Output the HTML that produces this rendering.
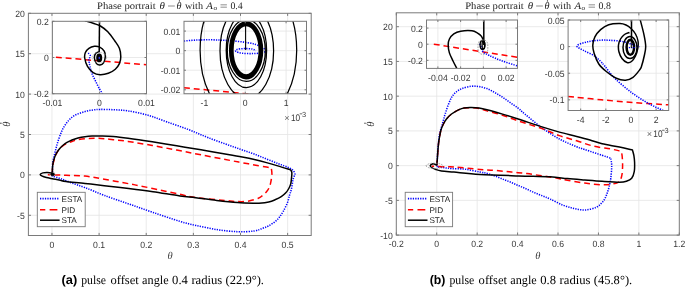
<!DOCTYPE html><html><head><meta charset="utf-8"><style>html,body{margin:0;padding:0;background:#fff;width:685px;height:288px;overflow:hidden}svg{display:block;will-change:transform;text-rendering:geometricPrecision}</style></head><body><svg width="685" height="288" viewBox="0 0 685 288"><defs><clipPath id="cL"><rect x="28.4" y="13.3" width="282.8" height="222.2"/></clipPath><clipPath id="cL1"><rect x="52.4" y="21.3" width="94.1" height="72.4"/></clipPath><clipPath id="cL2"><rect x="184" y="21.3" width="122.5" height="72.4"/></clipPath><clipPath id="cR"><rect x="396.3" y="12.8" width="283" height="222.3"/></clipPath><clipPath id="cR1"><rect x="426.5" y="20" width="91" height="48.4"/></clipPath><clipPath id="cR2"><rect x="568.1" y="20" width="100.6" height="90.5"/></clipPath></defs><rect width="685" height="288" fill="#fff"/><rect x="28.4" y="13.3" width="282.8" height="222.2" fill="#fff"/><g stroke="#e4e4e4" stroke-width="0.8"><line x1="51.97" y1="13.3" x2="51.97" y2="235.5"/><line x1="99.1" y1="13.3" x2="99.1" y2="235.5"/><line x1="146.23" y1="13.3" x2="146.23" y2="235.5"/><line x1="193.37" y1="13.3" x2="193.37" y2="235.5"/><line x1="240.5" y1="13.3" x2="240.5" y2="235.5"/><line x1="287.63" y1="13.3" x2="287.63" y2="235.5"/><line x1="28.4" y1="215.3" x2="311.2" y2="215.3"/><line x1="28.4" y1="174.9" x2="311.2" y2="174.9"/><line x1="28.4" y1="134.5" x2="311.2" y2="134.5"/><line x1="28.4" y1="94.1" x2="311.2" y2="94.1"/><line x1="28.4" y1="53.7" x2="311.2" y2="53.7"/></g><g clip-path="url(#cL)"><path d="M52.4 174.6C52.42 173.83 52.44 172.02 52.5 170C52.56 167.98 52.43 165 52.75 162.5C53.07 160 53.82 157.5 54.4 155C54.98 152.5 55.63 149.83 56.25 147.5C56.87 145.17 57.38 143.25 58.1 141C58.83 138.75 59.77 136.1 60.6 134C61.43 131.9 62.16 130.17 63.1 128.4C64.04 126.63 65.1 124.97 66.25 123.4C67.4 121.83 68.54 120.36 70 119C71.46 117.64 73.12 116.29 75 115.25C76.88 114.21 79.17 113.47 81.25 112.75C83.33 112.03 85.42 111.38 87.5 110.9C89.58 110.43 91.67 110.15 93.75 109.9C95.83 109.65 96.76 109.43 100 109.4C103.24 109.37 108.57 109.45 113.2 109.7C117.83 109.95 122.08 110 127.8 110.9C133.52 111.8 140.98 113.27 147.5 115.1C154.02 116.93 160.02 119.47 166.9 121.9C173.78 124.33 181.9 127.07 188.8 129.7C195.7 132.33 201.43 135.05 208.3 137.7C215.17 140.35 224.35 143.57 230 145.6C235.65 147.63 238.15 148.48 242.2 149.9C246.25 151.32 250.25 152.58 254.3 154.1C258.35 155.62 262.45 157.38 266.5 159C270.55 160.62 274.97 162.38 278.6 163.8C282.23 165.22 285.87 166.38 288.3 167.5C290.73 168.62 292.08 169.38 293.2 170.5C294.32 171.62 294.7 173.58 295 174.2L295 174.2C294.7 175 293.65 177.37 293.2 179C292.75 180.63 292.63 182.17 292.3 184C291.97 185.83 291.65 188.17 291.2 190C290.75 191.83 290.25 192.83 289.6 195C288.95 197.17 288.35 200.29 287.3 203C286.25 205.71 284.6 208.92 283.3 211.25C282 213.58 280.88 215.26 279.5 217C278.12 218.74 276.83 220.2 275 221.7C273.17 223.2 270.58 224.9 268.5 226C266.42 227.1 264.88 227.47 262.5 228.3C260.12 229.13 258.37 230.43 254.2 231C250.03 231.57 243.75 231.93 237.5 231.7C231.25 231.47 223.65 230.65 216.7 229.6C209.75 228.55 201.92 226.77 195.8 225.4C189.68 224.03 187.13 223.57 180 221.4C172.87 219.23 161.55 215.32 153 212.4C144.45 209.48 136.82 206.73 128.7 203.9C120.58 201.07 111.58 198.12 104.3 195.4C97.02 192.68 90.47 189.68 85 187.6C79.53 185.52 75.5 184.38 71.5 182.9C67.5 181.43 64.13 179.88 61 178.75C57.87 177.62 54.13 176.79 52.7 176.1C51.27 175.41 52.45 174.85 52.4 174.6" fill="none" stroke="#0000ff" stroke-width="1.55" stroke-dasharray="1.25 1.2"/><path d="M52.3 174.4C52.33 173.25 52.37 169.25 52.5 167.5C52.63 165.75 52.78 165.32 53.1 163.9C53.42 162.48 53.88 160.65 54.4 159C54.92 157.35 55.52 155.53 56.25 154C56.98 152.47 57.71 151.12 58.75 149.8C59.79 148.48 61.04 147.2 62.5 146.1C63.96 145 65.83 144 67.5 143.2C69.17 142.4 70.83 141.87 72.5 141.3C74.17 140.73 74.78 140.27 77.5 139.8C80.22 139.33 84.88 138.73 88.8 138.5C92.72 138.27 96.93 138.2 101 138.4C105.07 138.6 108.7 139.2 113.2 139.7C117.7 140.2 121.48 140.43 128 141.4C134.52 142.37 144.18 144.05 152.3 145.5C160.42 146.95 168.58 148.55 176.7 150.1C184.82 151.65 192.12 153.08 201 154.8C209.88 156.52 223.13 159.08 230 160.4C236.87 161.72 238.15 161.95 242.2 162.7C246.25 163.45 250.25 164.17 254.3 164.9C258.35 165.63 263.67 166.58 266.5 167.1C269.33 167.62 270.5 167.85 271.3 168L271.3 168.1C271.4 169.12 271.98 171.87 271.9 174.2C271.82 176.53 271.25 179.88 270.8 182.1C270.35 184.32 269.88 185.93 269.2 187.5C268.52 189.07 267.82 190.17 266.7 191.5C265.58 192.83 263.9 194.37 262.5 195.5C261.1 196.63 260.73 197.34 258.3 198.3C255.87 199.26 251.37 200.7 247.9 201.25C244.43 201.8 240.48 201.64 237.5 201.6C234.52 201.56 233.47 201.32 230 201C226.53 200.68 222.5 200.27 216.7 199.7C210.9 199.13 201.42 198.52 195.2 197.6C188.98 196.68 185.27 195.47 179.4 194.2C173.53 192.93 166.57 191.38 160 190C153.43 188.62 145.22 186.95 140 185.9C134.78 184.85 134.65 184.82 128.7 183.7C122.75 182.58 111.58 180.47 104.3 179.2C97.02 177.93 91.38 176.75 85 176.1C78.62 175.45 70.7 175.48 66 175.3C61.3 175.12 59.83 175.08 56.8 175C53.77 174.92 49.3 174.83 47.8 174.8" fill="none" stroke="#ff0000" stroke-width="1.5" stroke-dasharray="5.9 3.9"/><path d="M52.3 174.4C52.32 173.39 52.37 169.94 52.45 168.34C52.53 166.74 52.64 165.95 52.8 164.8C52.96 163.65 53.13 162.6 53.4 161.45C53.67 160.3 54 159.06 54.4 157.9C54.8 156.74 55.27 155.6 55.8 154.5C56.33 153.41 56.9 152.39 57.6 151.34C58.3 150.29 59.1 149.22 60 148.21C60.9 147.2 61.83 146.25 63 145.29C64.17 144.33 65.5 143.33 67 142.44C68.5 141.55 70.17 140.68 72 139.94C73.83 139.19 75.83 138.52 78 137.97C80.17 137.42 82.67 136.96 85 136.64C87.33 136.32 89.33 136.15 92 136.04C94.67 135.94 97.47 135.92 101 136C104.53 136.08 108.7 136.13 113.2 136.5C117.7 136.87 121.48 137.32 128 138.2C134.52 139.08 144.18 140.53 152.3 141.8C160.42 143.07 168.58 144.47 176.7 145.8C184.82 147.13 192.45 148.35 201 149.8C209.55 151.25 221.13 153.28 228 154.5C234.87 155.72 237.82 156.25 242.2 157.1C246.58 157.95 250.25 158.68 254.3 159.6C258.35 160.52 262.45 161.52 266.5 162.6C270.55 163.68 274.58 164.88 278.6 166.1C282.62 167.32 288.6 169.27 290.6 169.9L290.6 169.9C290.8 170.3 291.63 171.12 291.8 172.3C291.97 173.48 291.77 175.12 291.6 177C291.43 178.88 291.27 181.68 290.8 183.6C290.33 185.52 289.63 186.97 288.8 188.5C287.97 190.03 287.06 191.43 285.8 192.8C284.54 194.17 283.05 195.53 281.25 196.7C279.45 197.87 277.08 198.93 275 199.8C272.92 200.67 271.42 201.33 268.75 201.9C266.08 202.47 261.43 202.97 259 203.2C256.57 203.43 257.78 203.42 254.2 203.3C250.62 203.18 243.75 202.98 237.5 202.5C231.25 202.02 223.65 201.2 216.7 200.4C209.75 199.6 201.92 198.45 195.8 197.7C189.68 196.95 187.13 196.88 180 195.9C172.87 194.92 161.55 193.02 153 191.8C144.45 190.58 136.82 189.62 128.7 188.6C120.58 187.58 111.58 186.57 104.3 185.7C97.02 184.83 91.38 184.12 85 183.4C78.62 182.68 70.12 181.92 66 181.4C61.88 180.88 62.4 180.72 60.3 180.3C58.2 179.88 55.72 179.37 53.4 178.9C51.08 178.43 48.26 177.95 46.4 177.5C44.54 177.05 43.28 176.72 42.25 176.2C41.22 175.68 40.09 174.95 40.2 174.4C40.31 173.85 41.75 173.22 42.9 172.9C44.05 172.58 45.7 172.48 47.1 172.5C48.5 172.52 50.42 172.7 51.3 173C52.18 173.3 52.22 174.08 52.4 174.3" fill="none" stroke="#000" stroke-width="1.5" stroke-linejoin="round"/><path d="M49.4 174.4a3.2 1.6 0 1 0 6.4 0a3.2 1.6 0 1 0 -6.4 0" fill="none" stroke="#9a9a9a" stroke-width="0.7" stroke-dasharray="1.2 1"/><path d="M50.8 174.3a1.8 1.3 0 1 0 3.6 0a1.8 1.3 0 1 0 -3.6 0" fill="#000" stroke="#000" stroke-width="0.9"/></g><path d="M51.97 235.5v-2.6M51.97 13.3v2.6M99.1 235.5v-2.6M99.1 13.3v2.6M146.23 235.5v-2.6M146.23 13.3v2.6M193.37 235.5v-2.6M193.37 13.3v2.6M240.5 235.5v-2.6M240.5 13.3v2.6M287.63 235.5v-2.6M287.63 13.3v2.6M28.4 215.3h2.6M311.2 215.3h-2.6M28.4 174.9h2.6M311.2 174.9h-2.6M28.4 134.5h2.6M311.2 134.5h-2.6M28.4 94.1h2.6M311.2 94.1h-2.6M28.4 53.7h2.6M311.2 53.7h-2.6M28.4 13.3h2.6M311.2 13.3h-2.6" stroke="#7a7a7a" stroke-width="1" fill="none"/><rect x="28.4" y="13.3" width="282.8" height="222.2" fill="none" stroke="#7a7a7a" stroke-width="1"/><g font-family='"Liberation Sans", sans-serif' font-size="9.1" fill="#383838"><text transform="translate(51.97 247.8) scale(0.95 1)" text-anchor="middle">0</text><text transform="translate(99.1 247.8) scale(0.95 1)" text-anchor="middle">0.1</text><text transform="translate(146.23 247.8) scale(0.95 1)" text-anchor="middle">0.2</text><text transform="translate(193.37 247.8) scale(0.95 1)" text-anchor="middle">0.3</text><text transform="translate(240.5 247.8) scale(0.95 1)" text-anchor="middle">0.4</text><text transform="translate(287.63 247.8) scale(0.95 1)" text-anchor="middle">0.5</text><text transform="translate(24.8 218.8) scale(0.95 1)" text-anchor="end">-5</text><text transform="translate(24.8 178.4) scale(0.95 1)" text-anchor="end">0</text><text transform="translate(24.8 138) scale(0.95 1)" text-anchor="end">5</text><text transform="translate(24.8 97.6) scale(0.95 1)" text-anchor="end">10</text><text transform="translate(24.8 57.2) scale(0.95 1)" text-anchor="end">15</text><text transform="translate(24.8 16.8) scale(0.95 1)" text-anchor="end">20</text></g><rect x="37.3" y="192.3" width="47.9" height="34.4" fill="#fff" stroke="#7a7a7a" stroke-width="0.9"/><path d="M40 198.6H59.6" fill="none" stroke="#0000ff" stroke-width="1.55" stroke-dasharray="1.25 1.2"/><text x="61.5" y="201.6" font-family='"Liberation Sans", sans-serif' font-size="8.2" fill="#222">ESTA</text><path d="M40 209.7H59.6" fill="none" stroke="#ff0000" stroke-width="1.5" stroke-dasharray="5.3 4.3 7.8 10"/><text x="61.5" y="212.7" font-family='"Liberation Sans", sans-serif' font-size="8.2" fill="#222">PID</text><path d="M40 220.2H59.6" fill="none" stroke="#000" stroke-width="1.5" stroke-linejoin="round"/><text x="61.5" y="223.2" font-family='"Liberation Sans", sans-serif' font-size="8.2" fill="#222">STA</text><rect x="52.4" y="21.3" width="94.1" height="72.4" fill="#fff"/><g stroke="#e4e4e4" stroke-width="0.8"><line x1="99.45" y1="21.3" x2="99.45" y2="93.7"/><line x1="52.4" y1="57.5" x2="146.5" y2="57.5"/></g><g clip-path="url(#cL1)"><path d="M55.9 57.2L146.5 64.8" fill="none" stroke="#ff0000" stroke-width="1.5" stroke-dasharray="5.9 3.9"/><path d="M88.3 53C88.62 53.38 89.92 54.58 90.2 55.3C90.48 56.02 90.25 56.65 90 57.3C89.75 57.95 88.83 58.33 88.7 59.2C88.57 60.07 88.98 61.28 89.2 62.5C89.42 63.72 89.55 64.68 90 66.5C90.45 68.32 90.97 70.94 91.9 73.4C92.83 75.86 94.33 78.65 95.6 81.25C96.87 83.85 98.32 86.92 99.5 89C100.68 91.08 102.17 92.92 102.7 93.7" fill="none" stroke="#0000ff" stroke-width="1.55" stroke-dasharray="1.25 1.2"/><path d="M84.9 20.7C86.4 21.17 91.25 22.57 93.9 23.5C96.55 24.43 98.48 24.87 100.8 26.25C103.12 27.63 105.48 29.38 107.8 31.8C110.12 34.23 112.77 38.05 114.7 40.8C116.63 43.55 118.38 45.65 119.4 48.3C120.42 50.95 120.8 54.15 120.8 56.7C120.8 59.25 120.32 61.52 119.4 63.6C118.48 65.68 117.15 67.58 115.3 69.2C113.45 70.82 110.85 72.38 108.3 73.3C105.75 74.22 102.53 74.82 100 74.7C97.47 74.58 95.18 73.98 93.1 72.6C91.02 71.22 88.9 68.83 87.5 66.4C86.1 63.97 85.05 60.32 84.7 58C84.35 55.68 84.7 54.12 85.4 52.5C86.1 50.88 87.4 49.34 88.9 48.3C90.4 47.26 92.67 46.48 94.4 46.25C96.13 46.02 97.67 46.09 99.3 46.9C100.93 47.71 103.2 49.47 104.2 51.1C105.2 52.73 105.42 54.73 105.3 56.7C105.18 58.67 104.38 61.52 103.5 62.9C102.62 64.28 101.17 64.88 100 65C98.83 65.12 97.43 64.77 96.5 63.6C95.57 62.43 94.52 59.73 94.4 58C94.28 56.27 94.98 54.23 95.8 53.2C96.62 52.17 98.72 52.03 99.3 51.8" fill="none" stroke="#000" stroke-width="1.5" stroke-linejoin="round"/><path d="M99.5 21.3L99.2 52" fill="none" stroke="#000" stroke-width="1.5" stroke-linejoin="round"/><ellipse cx="99.2" cy="57.9" rx="3.0" ry="4.3" fill="#000"/><ellipse cx="99.3" cy="57.9" rx="0.8" ry="1.1" fill="#3030ff"/><ellipse cx="99.4" cy="57.6" rx="7.2" ry="5.2" fill="none" stroke="#a0a0a0" stroke-width="0.7" stroke-dasharray="1.3 1.2"/></g><path d="M52.4 93.7v-2M52.4 21.3v2M99.45 93.7v-2M99.45 21.3v2M146.5 93.7v-2M146.5 21.3v2M52.4 93.7h2M146.5 93.7h-2M52.4 57.5h2M146.5 57.5h-2M52.4 21.3h2M146.5 21.3h-2" stroke="#7a7a7a" stroke-width="1" fill="none"/><rect x="52.4" y="21.3" width="94.1" height="72.4" fill="none" stroke="#7a7a7a" stroke-width="1"/><g font-family='"Liberation Sans", sans-serif' font-size="9.1" fill="#383838"><text transform="translate(52.4 106) scale(0.95 1)" text-anchor="middle">-0.01</text><text transform="translate(99.45 106) scale(0.95 1)" text-anchor="middle">0</text><text transform="translate(146.5 106) scale(0.95 1)" text-anchor="middle">0.01</text><text transform="translate(48.8 97.2) scale(0.95 1)" text-anchor="end">-0.2</text><text transform="translate(48.8 61) scale(0.95 1)" text-anchor="end">0</text><text transform="translate(48.8 24.8) scale(0.95 1)" text-anchor="end">0.2</text></g><rect x="184" y="21.3" width="122.5" height="72.4" fill="#fff"/><g stroke="#e4e4e4" stroke-width="0.8"><line x1="204.42" y1="21.3" x2="204.42" y2="93.7"/><line x1="245.25" y1="21.3" x2="245.25" y2="93.7"/><line x1="286.08" y1="21.3" x2="286.08" y2="93.7"/><line x1="184" y1="89.79" x2="306.5" y2="89.79"/><line x1="184" y1="70.22" x2="306.5" y2="70.22"/><line x1="184" y1="50.65" x2="306.5" y2="50.65"/><line x1="184" y1="31.08" x2="306.5" y2="31.08"/></g><g clip-path="url(#cL2)"><path d="M184 87.7L250 94.1" fill="none" stroke="#ff0000" stroke-width="1.5" stroke-dasharray="5.9 3.9"/><path d="M184 41C186 40.85 191.67 40.3 196 40.1C200.33 39.9 205.67 39.78 210 39.8C214.33 39.82 218 40 222 40.2C226 40.4 230 40.63 234 41C238 41.37 242.4 41.83 246 42.4C249.6 42.97 252.9 43.55 255.6 44.4C258.3 45.25 260.45 46.47 262.2 47.5C263.95 48.53 266.13 49.72 266.1 50.6C266.07 51.48 264.35 52.3 262 52.8C259.65 53.3 255.33 53.53 252 53.6C248.67 53.67 244.67 53.55 242 53.2C239.33 52.85 236.83 52.12 236 51.5C235.17 50.88 235.67 49.98 237 49.5C238.33 49.02 241.5 48.68 244 48.6C246.5 48.52 250 48.68 252 49C254 49.32 255.33 50.25 256 50.5" fill="none" stroke="#0000ff" stroke-width="1.55" stroke-dasharray="1.25 1.2"/><path d="M200.1 50.2a48.3 73.4 0 1 0 96.6 0a48.3 73.4 0 1 0 -96.6 0M220 51a26.8 47.4 0 1 0 53.6 0a26.8 47.4 0 1 0 -53.6 0M226.2 50.4a20.2 37.2 0 1 0 40.4 0a20.2 37.2 0 1 0 -40.4 0M227.3 50.4a19 30.9 0 1 0 38 0a19 30.9 0 1 0 -38 0" fill="none" stroke="#000" stroke-width="1.25" stroke-linejoin="round"/><path d="M229.5 50.4a16.6 28.5 0 1 0 33.2 0a16.6 28.5 0 1 0 -33.2 0M230.5 50.4a15.6 27.4 0 1 0 31.2 0a15.6 27.4 0 1 0 -31.2 0M231.5 50.3a14.6 26.3 0 1 0 29.2 0a14.6 26.3 0 1 0 -29.2 0M232.4 50.3a13.7 25.3 0 1 0 27.4 0a13.7 25.3 0 1 0 -27.4 0M233.1 50.3a13 24.5 0 1 0 26 0a13 24.5 0 1 0 -26 0" fill="none" stroke="#000" stroke-width="1.12" stroke-linejoin="round"/><path d="M245.6 21.3L245.6 50" fill="none" stroke="#000" stroke-width="1.1" stroke-linejoin="round"/></g><path d="M204.42 93.7v-2M204.42 21.3v2M245.25 93.7v-2M245.25 21.3v2M286.08 93.7v-2M286.08 21.3v2M184 89.79h2M306.5 89.79h-2M184 70.22h2M306.5 70.22h-2M184 50.65h2M306.5 50.65h-2M184 31.08h2M306.5 31.08h-2" stroke="#7a7a7a" stroke-width="1" fill="none"/><rect x="184" y="21.3" width="122.5" height="72.4" fill="none" stroke="#7a7a7a" stroke-width="1"/><g font-family='"Liberation Sans", sans-serif' font-size="9.1" fill="#383838"><text transform="translate(204.42 106) scale(0.95 1)" text-anchor="middle">-1</text><text transform="translate(245.25 106) scale(0.95 1)" text-anchor="middle">0</text><text transform="translate(286.08 106) scale(0.95 1)" text-anchor="middle">1</text><text transform="translate(180.4 93.29) scale(0.95 1)" text-anchor="end">-0.02</text><text transform="translate(180.4 73.72) scale(0.95 1)" text-anchor="end">-0.01</text><text transform="translate(180.4 54.15) scale(0.95 1)" text-anchor="end">0</text><text transform="translate(180.4 34.58) scale(0.95 1)" text-anchor="end">0.01</text></g><rect x="396.3" y="12.8" width="283" height="222.3" fill="#fff"/><g stroke="#e4e4e4" stroke-width="0.8"><line x1="436.73" y1="12.8" x2="436.73" y2="235.1"/><line x1="477.16" y1="12.8" x2="477.16" y2="235.1"/><line x1="517.59" y1="12.8" x2="517.59" y2="235.1"/><line x1="558.01" y1="12.8" x2="558.01" y2="235.1"/><line x1="598.44" y1="12.8" x2="598.44" y2="235.1"/><line x1="638.87" y1="12.8" x2="638.87" y2="235.1"/><line x1="396.3" y1="200.37" x2="679.3" y2="200.37"/><line x1="396.3" y1="165.63" x2="679.3" y2="165.63"/><line x1="396.3" y1="130.9" x2="679.3" y2="130.9"/><line x1="396.3" y1="96.16" x2="679.3" y2="96.16"/><line x1="396.3" y1="61.43" x2="679.3" y2="61.43"/><line x1="396.3" y1="26.69" x2="679.3" y2="26.69"/></g><g clip-path="url(#cR)"><path d="M437.2 166.8C437.22 165.67 437.2 162.8 437.3 160C437.4 157.2 437.58 153 437.8 150C438.02 147 438.3 144.67 438.6 142C438.9 139.33 439.12 136.5 439.6 134C440.08 131.5 440.87 129.29 441.5 127C442.13 124.71 442.77 122.5 443.4 120.25C444.03 118 444.48 116.08 445.3 113.5C446.12 110.92 447.23 107.52 448.3 104.8C449.37 102.08 450.48 99.25 451.7 97.2C452.92 95.15 453.9 93.93 455.6 92.5C457.3 91.07 459.29 89.64 461.9 88.6C464.51 87.56 468.4 86.58 471.25 86.25C474.1 85.92 476.39 86.21 479 86.6C481.61 86.99 484.28 87.62 486.9 88.6C489.52 89.58 492.1 91.07 494.7 92.5C497.3 93.93 499.9 95.5 502.5 97.2C505.1 98.9 507.7 100.88 510.3 102.7C512.9 104.52 515.7 106.23 518.1 108.1C520.5 109.97 520.72 110.62 524.7 113.9C528.68 117.18 536.22 123.62 542 127.8C547.78 131.98 553.62 135.83 559.4 139C565.18 142.17 572.48 145.05 576.7 146.8C580.92 148.55 580.47 148.08 584.7 149.5C588.93 150.92 597.75 153.85 602.1 155.3C606.45 156.75 609.35 157.72 610.8 158.2L610.8 158.2C610.95 159.52 611.7 162.77 611.7 166.1C611.7 169.43 611.23 174.73 610.8 178.2C610.37 181.67 609.7 184.43 609.1 186.9C608.5 189.37 607.88 191.07 607.2 193C606.52 194.93 605.87 196.92 605 198.5C604.13 200.08 603.43 201.05 602 202.5C600.57 203.95 599.22 205.95 596.4 207.2C593.58 208.45 588.85 209.8 585.1 210C581.35 210.2 577.65 209.23 573.9 208.4C570.15 207.57 566.53 206.55 562.6 205C558.67 203.45 553.65 200.62 550.3 199.1C546.95 197.58 545.1 196.95 542.5 195.9C539.9 194.85 537.3 193.92 534.7 192.8C532.1 191.68 529.52 190.37 526.9 189.2C524.28 188.03 521.61 186.92 519 185.8C516.39 184.68 513.85 183.57 511.25 182.5C508.65 181.43 506.01 180.44 503.4 179.4C500.79 178.36 498.2 177.22 495.6 176.25C493 175.28 490.4 174.31 487.8 173.6C485.2 172.89 483.78 172.73 480 172C476.22 171.27 469.8 169.77 465.1 169.2C460.4 168.63 455.18 168.83 451.8 168.6C448.42 168.37 447.23 168.1 444.8 167.8C442.37 167.5 438.47 166.97 437.2 166.8" fill="none" stroke="#0000ff" stroke-width="1.55" stroke-dasharray="1.25 1.2"/><path d="M436.8 165.5C436.82 165.08 436.83 163.78 436.9 163C436.97 162.22 437.03 162.9 437.2 160.8C437.37 158.7 437.68 153.2 437.9 150.4C438.12 147.6 438.32 145.73 438.5 144C438.68 142.27 438.6 142.29 439 140C439.4 137.71 440.17 132.92 440.9 130.25C441.63 127.58 442.47 125.88 443.4 124C444.33 122.12 445.15 120.67 446.5 119C447.85 117.33 449.42 115.57 451.5 114C453.58 112.43 456.92 110.6 459 109.6C461.08 108.6 461.96 108.32 464 108C466.04 107.68 468.75 107.63 471.25 107.7C473.75 107.77 476.39 107.87 479 108.4C481.61 108.93 482.98 109.77 486.9 110.9C490.82 112.03 497.3 113.53 502.5 115.2C507.7 116.87 511.52 118.67 518.1 120.9C524.68 123.13 535.12 126.15 542 128.6C548.88 131.05 553.62 133.57 559.4 135.6C565.18 137.63 571.03 139.05 576.7 140.8C582.37 142.55 587.72 144.73 593.4 146.1C599.08 147.47 606.17 148.13 610.8 149C615.43 149.87 619.47 150.92 621.2 151.3L621.2 151.3C621.35 152.02 621.87 153.43 622.1 155.6C622.33 157.77 622.6 161.25 622.6 164.3C622.6 167.35 622.47 171.28 622.1 173.9C621.73 176.52 621.12 178.55 620.4 180C619.68 181.45 619.4 181.88 617.8 182.6C616.2 183.32 613.42 183.93 610.8 184.3C608.18 184.67 606.45 185 602.1 184.8C597.75 184.6 590.48 183.85 584.7 183.1C578.92 182.35 572.35 181.18 567.4 180.3C562.45 179.42 559.15 178.53 555 177.8C550.85 177.07 547.18 176.6 542.5 175.9C537.82 175.2 532.11 174.25 526.9 173.6C521.69 172.95 516.47 172.52 511.25 172C506.03 171.48 500.81 170.93 495.6 170.5C490.39 170.07 486.95 170 480 169.4C473.05 168.8 459.42 167.33 453.9 166.9C448.38 166.47 449.92 166.88 446.9 166.8C443.88 166.72 438.35 166.52 435.8 166.4C433.25 166.28 432.3 166.15 431.6 166.1" fill="none" stroke="#ff0000" stroke-width="1.5" stroke-dasharray="5.9 3.9"/><path d="M436.8 165.5C436.82 165.08 436.83 163.78 436.9 163C436.97 162.22 437.03 162.9 437.2 160.8C437.37 158.7 437.68 153.2 437.9 150.4C438.12 147.6 438.32 145.73 438.5 144C438.68 142.27 438.6 142.29 439 140C439.4 137.71 440.17 132.92 440.9 130.25C441.63 127.58 442.47 125.88 443.4 124C444.33 122.12 445.15 120.67 446.5 119C447.85 117.33 449.42 115.57 451.5 114C453.58 112.43 456.92 110.62 459 109.6C461.08 108.58 461.96 108.23 464 107.9C466.04 107.57 468.75 107.57 471.25 107.6C473.75 107.63 476.39 107.75 479 108.1C481.61 108.45 482.98 108.7 486.9 109.7C490.82 110.7 497.3 112.55 502.5 114.1C507.7 115.65 511.52 116.87 518.1 119C524.68 121.13 535.12 124.72 542 126.9C548.88 129.08 553.62 130.52 559.4 132.1C565.18 133.68 571.6 135.08 576.7 136.4C581.8 137.72 585.77 138.77 590 140C594.23 141.23 597.18 142.63 602.1 143.8C607.02 144.97 614.43 145.95 619.5 147C624.57 148.05 630.33 149.58 632.5 150.1L632.5 150.1C632.73 151.02 633.55 153.52 633.9 155.6C634.25 157.68 634.53 159.98 634.6 162.6C634.67 165.22 634.78 168.7 634.3 171.3C633.82 173.9 633.02 176.53 631.7 178.2C630.38 179.87 628.43 180.63 626.4 181.3C624.37 181.97 623.55 182.2 619.5 182.2C615.45 182.2 607.9 181.67 602.1 181.3C596.3 180.93 590.48 180.45 584.7 180C578.92 179.55 573.18 179.13 567.4 178.6C561.62 178.07 558.07 177.25 550 176.8C541.93 176.35 530.67 176.3 519 175.9C507.33 175.5 490.85 175.03 480 174.4C469.15 173.77 460.33 172.68 453.9 172.1C447.47 171.52 444.42 171.33 441.4 170.9C438.38 170.47 437.43 170.07 435.8 169.5C434.17 168.93 432.53 168.13 431.6 167.5C430.68 166.87 430.13 166.28 430.25 165.7C430.37 165.12 431.51 164.25 432.3 164C433.09 163.75 434.25 163.95 435 164.2C435.75 164.45 436.5 165.28 436.8 165.5" fill="none" stroke="#000" stroke-width="1.5" stroke-linejoin="round"/><path d="M426.2 165.8a8.3 2.6 0 1 0 16.6 0a8.3 2.6 0 1 0 -16.6 0" fill="none" stroke="#8a8a8a" stroke-width="0.8" stroke-dasharray="1.6 1.1"/></g><path d="M396.3 235.1v-2.6M396.3 12.8v2.6M436.73 235.1v-2.6M436.73 12.8v2.6M477.16 235.1v-2.6M477.16 12.8v2.6M517.59 235.1v-2.6M517.59 12.8v2.6M558.01 235.1v-2.6M558.01 12.8v2.6M598.44 235.1v-2.6M598.44 12.8v2.6M638.87 235.1v-2.6M638.87 12.8v2.6M679.3 235.1v-2.6M679.3 12.8v2.6M396.3 235.1h2.6M679.3 235.1h-2.6M396.3 200.37h2.6M679.3 200.37h-2.6M396.3 165.63h2.6M679.3 165.63h-2.6M396.3 130.9h2.6M679.3 130.9h-2.6M396.3 96.16h2.6M679.3 96.16h-2.6M396.3 61.43h2.6M679.3 61.43h-2.6M396.3 26.69h2.6M679.3 26.69h-2.6" stroke="#7a7a7a" stroke-width="1" fill="none"/><rect x="396.3" y="12.8" width="283" height="222.3" fill="none" stroke="#7a7a7a" stroke-width="1"/><g font-family='"Liberation Sans", sans-serif' font-size="9.1" fill="#383838"><text transform="translate(396.3 247.4) scale(0.95 1)" text-anchor="middle">-0.2</text><text transform="translate(436.73 247.4) scale(0.95 1)" text-anchor="middle">0</text><text transform="translate(477.16 247.4) scale(0.95 1)" text-anchor="middle">0.2</text><text transform="translate(517.59 247.4) scale(0.95 1)" text-anchor="middle">0.4</text><text transform="translate(558.01 247.4) scale(0.95 1)" text-anchor="middle">0.6</text><text transform="translate(598.44 247.4) scale(0.95 1)" text-anchor="middle">0.8</text><text transform="translate(638.87 247.4) scale(0.95 1)" text-anchor="middle">1</text><text transform="translate(679.3 247.4) scale(0.95 1)" text-anchor="middle">1.2</text><text transform="translate(392.7 238.6) scale(0.95 1)" text-anchor="end">-10</text><text transform="translate(392.7 203.87) scale(0.95 1)" text-anchor="end">-5</text><text transform="translate(392.7 169.13) scale(0.95 1)" text-anchor="end">0</text><text transform="translate(392.7 134.4) scale(0.95 1)" text-anchor="end">5</text><text transform="translate(392.7 99.66) scale(0.95 1)" text-anchor="end">10</text><text transform="translate(392.7 64.93) scale(0.95 1)" text-anchor="end">15</text><text transform="translate(392.7 30.19) scale(0.95 1)" text-anchor="end">20</text></g><rect x="405.2" y="192.3" width="47.4" height="34.4" fill="#fff" stroke="#7a7a7a" stroke-width="0.9"/><path d="M407.9 198.6H427.5" fill="none" stroke="#0000ff" stroke-width="1.55" stroke-dasharray="1.25 1.2"/><text x="429.4" y="201.6" font-family='"Liberation Sans", sans-serif' font-size="8.2" fill="#222">ESTA</text><path d="M407.9 209.7H427.5" fill="none" stroke="#ff0000" stroke-width="1.5" stroke-dasharray="5.3 4.3 7.8 10"/><text x="429.4" y="212.7" font-family='"Liberation Sans", sans-serif' font-size="8.2" fill="#222">PID</text><path d="M407.9 220.2H427.5" fill="none" stroke="#000" stroke-width="1.5" stroke-linejoin="round"/><text x="429.4" y="223.2" font-family='"Liberation Sans", sans-serif' font-size="8.2" fill="#222">STA</text><rect x="426.5" y="20" width="91" height="48.4" fill="#fff"/><g stroke="#e4e4e4" stroke-width="0.8"><line x1="437.88" y1="20" x2="437.88" y2="68.4"/><line x1="460.62" y1="20" x2="460.62" y2="68.4"/><line x1="483.38" y1="20" x2="483.38" y2="68.4"/><line x1="506.12" y1="20" x2="506.12" y2="68.4"/><line x1="426.5" y1="60.33" x2="517.5" y2="60.33"/><line x1="426.5" y1="44.2" x2="517.5" y2="44.2"/><line x1="426.5" y1="28.07" x2="517.5" y2="28.07"/></g><g clip-path="url(#cR1)"><path d="M433.8 44.2L517.5 57.3" fill="none" stroke="#ff0000" stroke-width="1.5" stroke-dasharray="5.9 3.9"/><path d="M479.8 43.8C480.08 44.5 480.92 46.63 481.5 48C482.08 49.37 481.98 50.75 483.3 52C484.62 53.25 486.37 54.05 489.4 55.5C492.43 56.95 496.82 58.97 501.5 60.7C506.18 62.43 514.83 65.03 517.5 65.9" fill="none" stroke="#0000ff" stroke-width="1.55" stroke-dasharray="1.25 1.2"/><path d="M456.9 68.6C456.23 67.28 454.15 63.32 452.9 60.7C451.65 58.08 450.18 55.52 449.4 52.9C448.62 50.28 448.2 47.32 448.2 45C448.2 42.68 448.47 40.87 449.4 39C450.33 37.13 451.92 35.1 453.8 33.8C455.68 32.5 457.67 31.7 460.7 31.2C463.73 30.7 469.25 30.52 472 30.8C474.75 31.08 475.62 31.97 477.2 32.9C478.78 33.83 480.43 34.95 481.5 36.4C482.57 37.85 483.22 40.17 483.6 41.6C483.98 43.03 483.77 44.43 483.8 45" fill="none" stroke="#000" stroke-width="1.5" stroke-linejoin="round"/><path d="M483.8 20L483.8 42" fill="none" stroke="#000" stroke-width="1.5" stroke-linejoin="round"/><ellipse cx="482.5" cy="45" rx="2.4" ry="4.4" fill="none" stroke="#000" stroke-width="1.4"/><ellipse cx="483.4" cy="45" rx="1.3" ry="4" fill="none" stroke="#000" stroke-width="1.3"/><rect x="478" y="40" width="9.8" height="14.2" rx="4" ry="5" fill="none" stroke="#8a8a8a" stroke-width="0.8" stroke-dasharray="1.6 1.1"/></g><path d="M437.88 68.4v-2M437.88 20v2M460.62 68.4v-2M460.62 20v2M483.38 68.4v-2M483.38 20v2M506.12 68.4v-2M506.12 20v2M426.5 60.33h2M517.5 60.33h-2M426.5 44.2h2M517.5 44.2h-2M426.5 28.07h2M517.5 28.07h-2" stroke="#7a7a7a" stroke-width="1" fill="none"/><rect x="426.5" y="20" width="91" height="48.4" fill="none" stroke="#7a7a7a" stroke-width="1"/><g font-family='"Liberation Sans", sans-serif' font-size="9.1" fill="#383838"><text transform="translate(437.88 80.7) scale(0.95 1)" text-anchor="middle">-0.04</text><text transform="translate(460.62 80.7) scale(0.95 1)" text-anchor="middle">-0.02</text><text transform="translate(483.38 80.7) scale(0.95 1)" text-anchor="middle">0</text><text transform="translate(506.12 80.7) scale(0.95 1)" text-anchor="middle">0.02</text><text transform="translate(422.9 63.83) scale(0.95 1)" text-anchor="end">-0.2</text><text transform="translate(422.9 47.7) scale(0.95 1)" text-anchor="end">0</text><text transform="translate(422.9 31.57) scale(0.95 1)" text-anchor="end">0.2</text></g><rect x="568.1" y="20" width="100.6" height="90.5" fill="#fff"/><g stroke="#e4e4e4" stroke-width="0.8"><line x1="580.68" y1="20" x2="580.68" y2="110.5"/><line x1="605.83" y1="20" x2="605.83" y2="110.5"/><line x1="630.98" y1="20" x2="630.98" y2="110.5"/><line x1="656.12" y1="20" x2="656.12" y2="110.5"/><line x1="568.1" y1="99.85" x2="668.7" y2="99.85"/><line x1="568.1" y1="73.24" x2="668.7" y2="73.24"/><line x1="568.1" y1="46.62" x2="668.7" y2="46.62"/></g><g clip-path="url(#cR2)"><path d="M568.1 96.5C573.63 97.05 590.2 98.77 601.3 99.8C612.4 100.83 623.47 101.87 634.7 102.7C645.93 103.53 663.03 104.45 668.7 104.8" fill="none" stroke="#ff0000" stroke-width="1.5" stroke-dasharray="5.9 3.9"/><path d="M620 41C618.33 40.88 613.23 40.43 610 40.3C606.77 40.17 604.33 39.95 600.6 40.2C596.87 40.45 591.53 40.85 587.6 41.8C583.67 42.75 577.55 44.4 577 45.9C576.45 47.4 581.45 49.17 584.3 50.8C587.15 52.43 591.38 53.93 594.1 55.7C596.82 57.47 598.83 59.68 600.6 61.4C602.37 63.12 602.35 63.2 604.7 66C607.05 68.8 610.27 73.82 614.7 78.2C619.13 82.58 625.75 88.13 631.3 92.3C636.85 96.47 642.72 100.17 648 103.2C653.28 106.23 660.17 109.03 663 110.5C665.83 111.97 664.67 111.75 665 112" fill="none" stroke="#0000ff" stroke-width="1.55" stroke-dasharray="1.25 1.2"/><path d="M620 41C620.75 41.15 622.45 41.32 624.5 41.9C626.55 42.48 629.83 43.67 632.3 44.5C634.77 45.33 638.13 46.5 639.3 46.9" fill="none" stroke="#0000ff" stroke-width="1.55" stroke-dasharray="1.25 1.2"/><path d="M640 19C640.68 21.72 643.15 30.68 644.1 35.3C645.05 39.92 645.7 43.17 645.7 46.7C645.7 50.23 644.78 53.28 644.1 56.5C643.42 59.72 642.33 63.78 641.6 66C640.87 68.22 641.13 67.92 639.7 69.8C638.27 71.68 635.37 75.57 633 77.3C630.63 79.03 628.28 80.05 625.5 80.2C622.72 80.35 619.5 79.65 616.3 78.2C613.1 76.75 609.22 73.87 606.3 71.5C603.38 69.13 600.83 67.05 598.8 64C596.77 60.95 595.1 56.35 594.1 53.2C593.1 50.05 592.67 47.82 592.8 45.1C592.93 42.38 593.6 39.48 594.9 36.9C596.2 34.32 598.3 31.63 600.6 29.6C602.9 27.57 605.47 25.7 608.7 24.7C611.93 23.7 617.12 23.55 620 23.6C622.88 23.65 624.17 24.18 626 25C627.83 25.82 629.42 27 631 28.5C632.58 30 634.33 31.92 635.5 34C636.67 36.08 637.62 38.58 638 41C638.38 43.42 638.22 46 637.8 48.5C637.38 51 636.55 53.83 635.5 56C634.45 58.17 632.92 60.42 631.5 61.5C630.08 62.58 628.58 63 627 62.5C625.42 62 623.33 60.25 622 58.5C620.67 56.75 619.58 54.25 619 52C618.42 49.75 618.25 47.17 618.5 45C618.75 42.83 619.5 40.75 620.5 39C621.5 37.25 623 35.58 624.5 34.5C626 33.42 628.67 32.83 629.5 32.5" fill="none" stroke="#000" stroke-width="1.5" stroke-linejoin="round"/><path d="M623 47.6a7 11 0 1 0 14 0a7 11 0 1 0 -14 0" fill="none" stroke="#000" stroke-width="1.5" stroke-linejoin="round"/><path d="M631.5 20L631.5 42" fill="none" stroke="#000" stroke-width="1.5" stroke-linejoin="round"/><ellipse cx="630.35" cy="47.3" rx="3.75" ry="7.5" fill="none" stroke="#000" stroke-width="2.5"/><path d="M628.8 47.6H635.8" fill="none" stroke="#0000ff" stroke-width="1.4" stroke-dasharray="1.2 1.2"/><path d="M631.3 41V48" stroke="#000" stroke-width="1"/></g><path d="M580.68 110.5v-2M580.68 20v2M605.83 110.5v-2M605.83 20v2M630.98 110.5v-2M630.98 20v2M656.12 110.5v-2M656.12 20v2M568.1 99.85h2M668.7 99.85h-2M568.1 73.24h2M668.7 73.24h-2M568.1 46.62h2M668.7 46.62h-2M568.1 20h2M668.7 20h-2" stroke="#7a7a7a" stroke-width="1" fill="none"/><rect x="568.1" y="20" width="100.6" height="90.5" fill="none" stroke="#7a7a7a" stroke-width="1"/><g font-family='"Liberation Sans", sans-serif' font-size="9.1" fill="#383838"><text transform="translate(580.68 122.8) scale(0.95 1)" text-anchor="middle">-4</text><text transform="translate(605.83 122.8) scale(0.95 1)" text-anchor="middle">-2</text><text transform="translate(630.98 122.8) scale(0.95 1)" text-anchor="middle">0</text><text transform="translate(656.12 122.8) scale(0.95 1)" text-anchor="middle">2</text><text transform="translate(564.5 103.35) scale(0.95 1)" text-anchor="end">-0.1</text><text transform="translate(564.5 76.74) scale(0.95 1)" text-anchor="end">-0.05</text><text transform="translate(564.5 50.12) scale(0.95 1)" text-anchor="end">0</text><text transform="translate(564.5 23.5) scale(0.95 1)" text-anchor="end">0.05</text></g><g font-family='"Liberation Sans", sans-serif' fill="#383838"><text x="284.3" y="120.6" font-size="9.2" fill="#6a6a6a">&#215;</text><text x="290.9" y="120.8" font-size="9.6" textLength="9.2" lengthAdjust="spacingAndGlyphs">10</text><rect x="299.7" y="113.5" width="2.4" height="0.75"/><text x="302.1" y="117" font-size="7.4">3</text></g><g font-family='"Liberation Sans", sans-serif' fill="#383838"><text x="646.7" y="136.9" font-size="9.2" fill="#6a6a6a">&#215;</text><text x="653.3" y="137.1" font-size="9.6" textLength="9.2" lengthAdjust="spacingAndGlyphs">10</text><rect x="662.1" y="129.8" width="2.4" height="0.75"/><text x="664.5" y="133.3" font-size="7.4">3</text></g><g font-family='"Liberation Serif", serif' font-size="10" fill="#1e1e1e"><text x="97.1" y="9.1" textLength="58.6" lengthAdjust="spacingAndGlyphs">Phase portrait</text><text x="159.6" y="9.1" textLength="5.4" lengthAdjust="spacingAndGlyphs" font-style="italic">&#952;</text><text x="176.5" y="9.1" textLength="5" lengthAdjust="spacingAndGlyphs" font-style="italic">&#952;</text><text x="184.9" y="9.1" textLength="18.1" lengthAdjust="spacingAndGlyphs">with</text><text x="206.3" y="9.1" textLength="6.6" lengthAdjust="spacingAndGlyphs" font-style="italic">A</text><rect x="168" y="5.7" width="6.8" height="0.6" fill="#444"/><rect x="220.5" y="4.6" width="6.4" height="0.6" fill="#444"/><rect x="220.5" y="6.8" width="6.4" height="0.6" fill="#444"/><circle cx="179.4" cy="0.9" r="0.6"/><text x="213.4" y="10.3" font-size="6.6" font-style="italic" textLength="3.6" lengthAdjust="spacingAndGlyphs">o</text><text x="230.4" y="9.1" textLength="12.3" lengthAdjust="spacingAndGlyphs">0.4</text></g><g font-family='"Liberation Serif", serif' font-size="10" fill="#1e1e1e"><text x="465.2" y="9.1" textLength="58.6" lengthAdjust="spacingAndGlyphs">Phase portrait</text><text x="527.7" y="9.1" textLength="5.4" lengthAdjust="spacingAndGlyphs" font-style="italic">&#952;</text><text x="544.6" y="9.1" textLength="5" lengthAdjust="spacingAndGlyphs" font-style="italic">&#952;</text><text x="553" y="9.1" textLength="18.1" lengthAdjust="spacingAndGlyphs">with</text><text x="574.4" y="9.1" textLength="6.6" lengthAdjust="spacingAndGlyphs" font-style="italic">A</text><rect x="536.1" y="5.7" width="6.8" height="0.6" fill="#444"/><rect x="588.6" y="4.6" width="6.4" height="0.6" fill="#444"/><rect x="588.6" y="6.8" width="6.4" height="0.6" fill="#444"/><circle cx="547.5" cy="0.9" r="0.6"/><text x="581.5" y="10.3" font-size="6.6" font-style="italic" textLength="3.6" lengthAdjust="spacingAndGlyphs">o</text><text x="598.5" y="9.1" textLength="12.3" lengthAdjust="spacingAndGlyphs">0.8</text></g><text x="170" y="258.7" text-anchor="middle" font-family='"Liberation Serif", serif' font-style="italic" font-size="10.5" fill="#383838">&#952;</text><text x="537.9" y="258.7" text-anchor="middle" font-family='"Liberation Serif", serif' font-style="italic" font-size="10.5" fill="#383838">&#952;</text><g fill="#383838"><text transform="translate(9.9 124.2) rotate(-90)" text-anchor="middle" font-family='"Liberation Serif", serif' font-style="italic" font-size="10.5">&#952;</text><circle cx="0.9" cy="123.3" r="0.7"/></g><g fill="#383838"><text transform="translate(374 124.2) rotate(-90)" text-anchor="middle" font-family='"Liberation Serif", serif' font-style="italic" font-size="10.5">&#952;</text><circle cx="365" cy="123.3" r="0.7"/></g><g font-size="12.4" fill="#000"><text x="61.5" y="284" font-family='"Liberation Sans", sans-serif' font-weight="bold" textLength="15.7" lengthAdjust="spacingAndGlyphs">(a)</text><text x="81.2" y="284" font-family='"Liberation Serif", serif' textLength="24.8" lengthAdjust="spacingAndGlyphs">pulse</text><text x="110.4" y="284" font-family='"Liberation Serif", serif' textLength="28.4" lengthAdjust="spacingAndGlyphs">offset</text><text x="142.1" y="284" font-family='"Liberation Serif", serif' textLength="26.5" lengthAdjust="spacingAndGlyphs">angle</text><text x="172.1" y="284" font-family='"Liberation Serif", serif' textLength="15.8" lengthAdjust="spacingAndGlyphs">0.4</text><text x="191.4" y="284" font-family='"Liberation Serif", serif' textLength="30.9" lengthAdjust="spacingAndGlyphs">radius</text><text x="225.6" y="284" font-family='"Liberation Serif", serif' textLength="38.4" lengthAdjust="spacingAndGlyphs">(22.9&#176;).</text></g><g font-size="12.4" fill="#000"><text x="429.7" y="284" font-family='"Liberation Sans", sans-serif' font-weight="bold" textLength="15.7" lengthAdjust="spacingAndGlyphs">(b)</text><text x="449.4" y="284" font-family='"Liberation Serif", serif' textLength="24.8" lengthAdjust="spacingAndGlyphs">pulse</text><text x="478.6" y="284" font-family='"Liberation Serif", serif' textLength="28.4" lengthAdjust="spacingAndGlyphs">offset</text><text x="510.3" y="284" font-family='"Liberation Serif", serif' textLength="26.5" lengthAdjust="spacingAndGlyphs">angle</text><text x="540.3" y="284" font-family='"Liberation Serif", serif' textLength="15.8" lengthAdjust="spacingAndGlyphs">0.8</text><text x="559.6" y="284" font-family='"Liberation Serif", serif' textLength="30.9" lengthAdjust="spacingAndGlyphs">radius</text><text x="593.8" y="284" font-family='"Liberation Serif", serif' textLength="38.4" lengthAdjust="spacingAndGlyphs">(45.8&#176;).</text></g></svg></body></html>
